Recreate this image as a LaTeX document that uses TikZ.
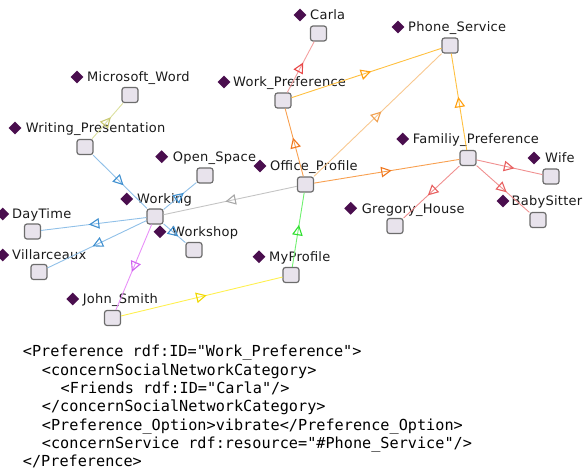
\documentclass[tikz,border=0pt]{standalone}
\usepackage{fontspec}
\setmainfont{DejaVu Sans}
\newfontfamily\lblfont[LetterSpace=2]{DejaVu Sans}
\newfontfamily\codefont{DejaVu Sans Mono}
\usetikzlibrary{arrows.meta,decorations.markings,shapes.geometric}
\definecolor{boxfill}{HTML}{E8E3EC}
\definecolor{boxline}{HTML}{6C6C6C}
\definecolor{dia}{HTML}{4A0E4E}
\definecolor{txt}{HTML}{1A1A1A}
\definecolor{redL}{HTML}{F4A0A0}\definecolor{redA}{HTML}{E84848}
\definecolor{yorL}{HTML}{FFC040}\definecolor{yorA}{HTML}{FFA010}
\definecolor{orL}{HTML}{F8A050}\definecolor{orA}{HTML}{F07820}
\definecolor{lorL}{HTML}{F8C890}\definecolor{lorA}{HTML}{F0A050}
\definecolor{pinkL}{HTML}{F09090}\definecolor{pinkA}{HTML}{E86060}
\definecolor{grayL}{HTML}{C4C4C4}\definecolor{grayA}{HTML}{A8A8A8}
\definecolor{grnL}{HTML}{70F070}\definecolor{grnA}{HTML}{30E030}
\definecolor{yelL}{HTML}{FFF050}\definecolor{yelA}{HTML}{F0D800}
\definecolor{bluL}{HTML}{90C0E8}\definecolor{bluA}{HTML}{4090D0}
\definecolor{vioL}{HTML}{E890F8}\definecolor{vioA}{HTML}{D060F0}
\definecolor{ygL}{HTML}{DCE0A0}\definecolor{ygA}{HTML}{C8C870}
\tikzset{
  box/.style={draw=boxline, fill=boxfill, line width=1.2pt, rounded corners=2.5pt,
    minimum width=16pt, minimum height=15pt, inner sep=0pt},
  dmd/.style={shape=diamond, fill=dia, minimum width=13pt, minimum height=13pt, inner sep=0pt},
  lbl/.style={anchor=base west, inner sep=0pt, text=txt, font=\lblfont\fontsize{13}{15}\selectfont},
  codeline/.style={anchor=base west, inner sep=0pt, text=black, font=\codefont\fontsize{15.2}{18}\selectfont},
  edge/.style 2 args={draw=#1, line width=0.9pt,
    postaction={decorate, decoration={markings, mark=at position 0.5 with
      {\arrow[#2, xshift=5pt, line width=1.1pt]{Triangle[open, length=10.5pt, width=10.5pt]}}}}}
}
\begin{document}
\begin{tikzpicture}[x=1pt, y=-1pt]
\useasboundingbox (0,0) rectangle (583,471);
% boxes
\node[box] (Carla) at (318.5,33.5) {};
\node[box] (Phone) at (450,45.5) {};
\node[box] (WorkPref) at (283,100.5) {};
\node[box] (MSWord) at (130,95) {};
\node[box] (Writing) at (85,147) {};
\node[box] (OpenSpace) at (205,175.5) {};
\node[box] (Office) at (305.5,184.5) {};
\node[box] (Famil) at (468,158) {};
\node[box] (Wife) at (551,176.5) {};
\node[box] (Baby) at (538,220) {};
\node[box] (Gregory) at (395,226) {};
\node[box] (Working) at (155,216.5) {};
\node[box] (DayTime) at (32.5,231.5) {};
\node[box] (Villar) at (39,272) {};
\node[box] (Workshop) at (194,250) {};
\node[box] (MyProfile) at (291,275) {};
\node[box] (John) at (112.5,318) {};
% diamonds and labels
\node[dmd] (dCarla) at (300,15) {};       \node[lbl] (lCarla) at (310,19.7) {Carla};
\node[dmd] (dPhone) at (398,27) {};       \node[lbl] (lPhone) at (408,31.7) {Phone\_Service};
\node[dmd] (dWorkPref) at (224,82) {};    \node[lbl] (lWorkPref) at (233,86.7) {Work\_Preference};
\node[dmd] (dMSWord) at (77,77) {};       \node[lbl] (lMSWord) at (87,81.7) {Microsoft\_Word};
\node[dmd] (dWriting) at (15,128) {};     \node[lbl] (lWriting) at (25.7,132.7) {Writing\_Presentation};
\node[dmd] (dOpenSpace) at (161.7,156.7) {}; \node[lbl] (lOpenSpace) at (172.7,161.4) {Open\_Space};
\node[dmd] (dOffice) at (260,166) {};     \node[lbl] (lOffice) at (270,170.7) {Office\_Profile};
\node[dmd] (dFamil) at (402.7,139) {};    \node[lbl] (lFamil) at (412.7,143.7) {Familiy\_Preference};
\node[dmd] (dWife) at (534,158) {};       \node[lbl] (lWife) at (545,162.7) {Wife};
\node[dmd] (dBaby) at (503,201) {};       \node[lbl] (lBaby) at (511.5,205.7) {BabySitter};
\node[dmd] (dGregory) at (350.7,208.3) {}; \node[lbl] (lGregory) at (361.7,213) {Gregory\_House};
\node[dmd] (dWorking) at (126.7,199) {};  \node[lbl] (lWorking) at (137,203.7) {Working};
\node[dmd] (dDayTime) at (2.7,214) {};    \node[lbl] (lDayTime) at (12,218.7) {DayTime};
\node[dmd] (dVillar) at (2.7,255) {};     \node[lbl] (lVillar) at (12,259.7) {Villarceaux};
\node[dmd] (dWorkshop) at (160,231.7) {}; \node[lbl] (lWorkshop) at (172,236.4) {Workshop};
\node[dmd] (dMyProfile) at (259,256.7) {}; \node[lbl] (lMyProfile) at (269,261.4) {MyProfile};
\node[dmd] (dJohn) at (72.7,299) {};      \node[lbl] (lJohn) at (82.7,303.7) {John\_Smith};
% edges
\draw[edge={redL}{redA}] (WorkPref) -- (Carla);
\draw[edge={yorL}{yorA}] (WorkPref) -- (Phone);
\draw[edge={orL}{orA}] (Office) -- (WorkPref);
\draw[edge={lorL}{lorA}] (Office) -- (Phone);
\draw[edge={yorL}{yorA}] (Famil) -- (Phone);
\draw[edge={orL}{orA}] (Office) -- (Famil);
\draw[edge={pinkL}{pinkA}] (Famil) -- (Wife);
\draw[edge={pinkL}{pinkA}] (Famil) -- (Baby);
\draw[edge={pinkL}{pinkA}] (Famil) -- (Gregory);
\draw[edge={grayL}{grayA}] (Office) -- (Working);
\draw[edge={grnL}{grnA}] (MyProfile) -- (Office);
\draw[edge={yelL}{yelA}] (John) -- (MyProfile);
\draw[edge={bluL}{bluA}] (Writing) -- (Working);
\draw[edge={bluL}{bluA}] (Working) -- (DayTime);
\draw[edge={bluL}{bluA}] (Working) -- (Villar);
\draw[edge={bluL}{bluA}] (Working) -- (OpenSpace);
\draw[edge={bluL}{bluA}] (Working) -- (Workshop);
\draw[edge={vioL}{vioA}] (Working) -- (John);
\draw[edge={ygL}{ygA}] (Writing) -- (MSWord);
% code
\node[codeline] (c1) at (22.7,356.7) {<Preference rdf:ID="Work\_Preference">};
\node[codeline] (c2) at (41.7,375.0) {<concernSocialNetworkCategory>};
\node[codeline] (c3) at (60.5,393.3) {<Friends rdf:ID="Carla"/>};
\node[codeline] (c4) at (41.7,411.7) {</concernSocialNetworkCategory>};
\node[codeline] (c5) at (41.7,430.0) {<Preference\_Option>vibrate</Preference\_Option>};
\node[codeline] (c6) at (41.7,448.3) {<concernService rdf:resource="\#Phone\_Service"/>};
\node[codeline] (c7) at (22.7,466.7) {</Preference>};
\end{tikzpicture}
\end{document}
